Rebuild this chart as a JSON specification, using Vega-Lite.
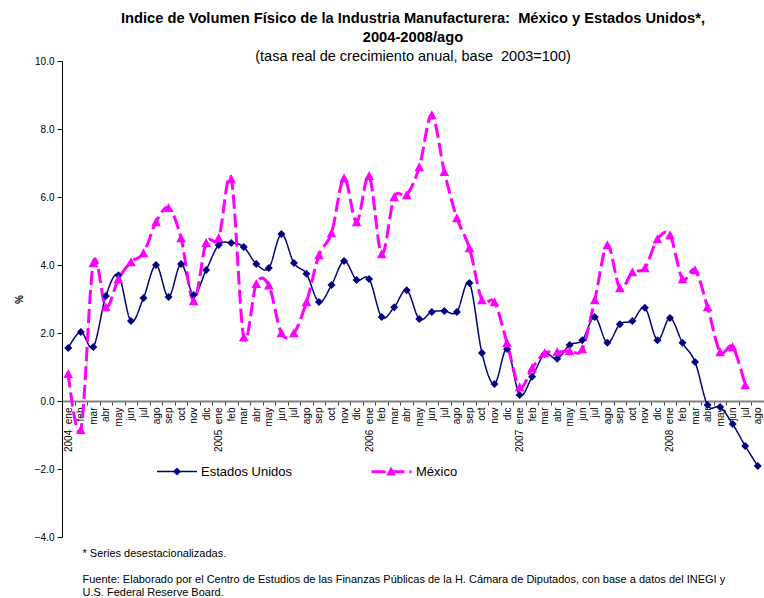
{
  "$schema": "https://vega.github.io/schema/vega-lite/v6.json",
  "autosize": {"type": "none"},
  "padding": {"left": 62, "top": 61, "right": 0, "bottom": 61},
  "width": 702,
  "height": 476,
  "background": "white",
  "title": {
    "text": ["Indice de Volumen Físico de la Industria Manufacturera: \u00a0México y Estados Unidos*,", "2004-2008/ago"],
    "subtitle": "(tasa real de crecimiento anual, base \u00a02003=100)",
    "font": "Liberation Sans",
    "fontSize": 14.7,
    "fontWeight": "bold",
    "lineHeight": 19,
    "color": "black",
    "subtitleFont": "Liberation Sans",
    "subtitleFontSize": 14.5,
    "subtitleColor": "black",
    "subtitlePadding": 5,
    "anchor": "middle",
    "frame": "group",
    "offset": -7
  },
  "data": {"values": [
    {"mes":"2004-01","serie":"Estados Unidos","valor":1.56},{"mes":"2004-02","serie":"Estados Unidos","valor":2.03},{"mes":"2004-03","serie":"Estados Unidos","valor":1.59},{"mes":"2004-04","serie":"Estados Unidos","valor":3.09},{"mes":"2004-05","serie":"Estados Unidos","valor":3.70},{"mes":"2004-06","serie":"Estados Unidos","valor":2.35},{"mes":"2004-07","serie":"Estados Unidos","valor":3.03},{"mes":"2004-08","serie":"Estados Unidos","valor":4.00},{"mes":"2004-09","serie":"Estados Unidos","valor":3.06},{"mes":"2004-10","serie":"Estados Unidos","valor":4.03},{"mes":"2004-11","serie":"Estados Unidos","valor":3.12},{"mes":"2004-12","serie":"Estados Unidos","valor":3.85},
    {"mes":"2005-01","serie":"Estados Unidos","valor":4.59},{"mes":"2005-02","serie":"Estados Unidos","valor":4.65},{"mes":"2005-03","serie":"Estados Unidos","valor":4.53},{"mes":"2005-04","serie":"Estados Unidos","valor":4.03},{"mes":"2005-05","serie":"Estados Unidos","valor":3.91},{"mes":"2005-06","serie":"Estados Unidos","valor":4.91},{"mes":"2005-07","serie":"Estados Unidos","valor":4.06},{"mes":"2005-08","serie":"Estados Unidos","valor":3.74},{"mes":"2005-09","serie":"Estados Unidos","valor":2.91},{"mes":"2005-10","serie":"Estados Unidos","valor":3.41},{"mes":"2005-11","serie":"Estados Unidos","valor":4.12},{"mes":"2005-12","serie":"Estados Unidos","valor":3.56},
    {"mes":"2006-01","serie":"Estados Unidos","valor":3.59},{"mes":"2006-02","serie":"Estados Unidos","valor":2.47},{"mes":"2006-03","serie":"Estados Unidos","valor":2.76},{"mes":"2006-04","serie":"Estados Unidos","valor":3.26},{"mes":"2006-05","serie":"Estados Unidos","valor":2.41},{"mes":"2006-06","serie":"Estados Unidos","valor":2.62},{"mes":"2006-07","serie":"Estados Unidos","valor":2.65},{"mes":"2006-08","serie":"Estados Unidos","valor":2.62},{"mes":"2006-09","serie":"Estados Unidos","valor":3.47},{"mes":"2006-10","serie":"Estados Unidos","valor":1.41},{"mes":"2006-11","serie":"Estados Unidos","valor":0.50},{"mes":"2006-12","serie":"Estados Unidos","valor":1.53},
    {"mes":"2007-01","serie":"Estados Unidos","valor":0.18},{"mes":"2007-02","serie":"Estados Unidos","valor":0.71},{"mes":"2007-03","serie":"Estados Unidos","valor":1.38},{"mes":"2007-04","serie":"Estados Unidos","valor":1.24},{"mes":"2007-05","serie":"Estados Unidos","valor":1.65},{"mes":"2007-06","serie":"Estados Unidos","valor":1.79},{"mes":"2007-07","serie":"Estados Unidos","valor":2.47},{"mes":"2007-08","serie":"Estados Unidos","valor":1.71},{"mes":"2007-09","serie":"Estados Unidos","valor":2.26},{"mes":"2007-10","serie":"Estados Unidos","valor":2.35},{"mes":"2007-11","serie":"Estados Unidos","valor":2.74},{"mes":"2007-12","serie":"Estados Unidos","valor":1.79},
    {"mes":"2008-01","serie":"Estados Unidos","valor":2.44},{"mes":"2008-02","serie":"Estados Unidos","valor":1.71},{"mes":"2008-03","serie":"Estados Unidos","valor":1.15},{"mes":"2008-04","serie":"Estados Unidos","valor":-0.12},{"mes":"2008-05","serie":"Estados Unidos","valor":-0.18},{"mes":"2008-06","serie":"Estados Unidos","valor":-0.68},{"mes":"2008-07","serie":"Estados Unidos","valor":-1.32},{"mes":"2008-08","serie":"Estados Unidos","valor":-1.91},
    {"mes":"2004-01","serie":"México","valor":0.80},{"mes":"2004-02","serie":"México","valor":-0.85},{"mes":"2004-03","serie":"México","valor":4.06},{"mes":"2004-04","serie":"México","valor":2.76},{"mes":"2004-05","serie":"México","valor":3.59},{"mes":"2004-06","serie":"México","valor":4.09},{"mes":"2004-07","serie":"México","valor":4.35},{"mes":"2004-08","serie":"México","valor":5.26},{"mes":"2004-09","serie":"México","valor":5.68},{"mes":"2004-10","serie":"México","valor":4.79},{"mes":"2004-11","serie":"México","valor":2.94},{"mes":"2004-12","serie":"México","valor":4.65},
    {"mes":"2005-01","serie":"México","valor":4.79},{"mes":"2005-02","serie":"México","valor":6.53},{"mes":"2005-03","serie":"México","valor":1.88},{"mes":"2005-04","serie":"México","valor":3.45},{"mes":"2005-05","serie":"México","valor":3.40},{"mes":"2005-06","serie":"México","valor":2.00},{"mes":"2005-07","serie":"México","valor":2.00},{"mes":"2005-08","serie":"México","valor":2.91},{"mes":"2005-09","serie":"México","valor":4.29},{"mes":"2005-10","serie":"México","valor":4.94},{"mes":"2005-11","serie":"México","valor":6.56},{"mes":"2005-12","serie":"México","valor":5.26},
    {"mes":"2006-01","serie":"México","valor":6.62},{"mes":"2006-02","serie":"México","valor":4.32},{"mes":"2006-03","serie":"México","valor":6.00},{"mes":"2006-04","serie":"México","valor":6.06},{"mes":"2006-05","serie":"México","valor":6.88},{"mes":"2006-06","serie":"México","valor":8.41},{"mes":"2006-07","serie":"México","valor":6.74},{"mes":"2006-08","serie":"México","valor":5.38},{"mes":"2006-09","serie":"México","valor":4.50},{"mes":"2006-10","serie":"México","valor":2.97},{"mes":"2006-11","serie":"México","valor":2.91},{"mes":"2006-12","serie":"México","valor":1.71},
    {"mes":"2007-01","serie":"México","valor":0.41},{"mes":"2007-02","serie":"México","valor":0.97},{"mes":"2007-03","serie":"México","valor":1.41},{"mes":"2007-04","serie":"México","valor":1.44},{"mes":"2007-05","serie":"México","valor":1.47},{"mes":"2007-06","serie":"México","valor":1.53},{"mes":"2007-07","serie":"México","valor":2.97},{"mes":"2007-08","serie":"México","valor":4.59},{"mes":"2007-09","serie":"México","valor":3.32},{"mes":"2007-10","serie":"México","valor":3.79},{"mes":"2007-11","serie":"México","valor":3.91},{"mes":"2007-12","serie":"México","valor":4.76},
    {"mes":"2008-01","serie":"México","valor":4.88},{"mes":"2008-02","serie":"México","valor":3.59},{"mes":"2008-03","serie":"México","valor":3.85},{"mes":"2008-04","serie":"México","valor":2.76},{"mes":"2008-05","serie":"México","valor":1.44},{"mes":"2008-06","serie":"México","valor":1.59},{"mes":"2008-07","serie":"México","valor":0.47}
  ]},
  "encoding": {
    "x": {
      "field": "mes",
      "type": "ordinal",
      "sort": null,
      "bandPosition": 0.5,
      "scale": {"type": "band", "paddingInner": 0, "paddingOuter": 0},
      "axis": {
        "orient": "bottom",
        "offset": -136,
        "tickBand": "extent",
        "labelAngle": -90,
        "labelAlign": "right",
        "labelBaseline": "middle",
        "labelFont": "Liberation Sans",
        "labelFontSize": 10,
        "labelColor": "black",
        "labelPadding": 2,
        "labelOverlap": false,
        "labelFlush": false,
        "labelBound": false,
        "labelExpr": "isString(datum.value) && length(datum.value) == 7 ? (substring(datum.value,5,7)=='01' ? substring(datum.value,0,4) + '\u00a0 ' : '') + ['ene','feb','mar','abr','may','jun','jul','ago','sep','oct','nov','dic'][toNumber(substring(datum.value,5,7))-1] : ''",
        "domainColor": "#808080",
        "domainWidth": 2,
        "tickColor": "#404040",
        "tickSize": 4,
        "grid": false,
        "title": ["* Series desestacionalizadas.", "\u200b", "Fuente: Elaborado por el Centro de Estudios de las Finanzas Públicas de la H. Cámara de Diputados, con base a datos del INEGI y", "U.S. Federal Reserve Board."],
        "titleFont": "Liberation Sans",
        "titleFontSize": 11,
        "titleFontWeight": "normal",
        "titleColor": "black",
        "titleLineHeight": 13,
        "titleAlign": "left",
        "titleBaseline": "top",
        "titleAnchor": "start",
        "titleX": 20,
        "titleY": 146
      }
    },
    "y": {
      "field": "valor",
      "type": "quantitative",
      "scale": {"domain": [-4, 10], "nice": false, "zero": false},
      "axis": {
        "values": [-4, -2, 0, 2, 4, 6, 8, 10],
        "format": ".1f",
        "labelFont": "Liberation Sans",
        "labelFontSize": 10,
        "labelColor": "black",
        "labelPadding": 3,
        "domainColor": "black",
        "domainWidth": 1,
        "tickColor": "black",
        "tickSize": 5,
        "grid": false,
        "title": "%",
        "titleFont": "Liberation Sans",
        "titleFontSize": 10,
        "titleFontWeight": "bold",
        "titleColor": "black",
        "titlePadding": 10
      }
    }
  },
  "layer": [
    {
      "mark": {"type": "line", "interpolate": "cardinal"},
      "encoding": {
        "color": {
          "field": "serie", "type": "nominal",
          "scale": {"range": ["#000080", "#FF00FF"]},
          "legend": {"orient": "none", "legendX": 94, "legendY": 389, "direction": "horizontal", "title": null, "symbolType": "stroke", "symbolSize": 1600, "symbolStrokeWidth": 2, "labelOffset": 3, "columnPadding": 72, "padding": 0, "labelFont": "Liberation Sans", "labelFontSize": 13, "labelColor": "black"}
        },
        "strokeDash": {
          "field": "serie", "type": "nominal",
          "scale": {"range": [[1, 0], [14, 5]]},
          "legend": {"orient": "none", "legendX": 94, "legendY": 389, "direction": "horizontal", "title": null, "symbolType": "stroke", "symbolSize": 1600, "symbolStrokeWidth": 2, "labelOffset": 3, "columnPadding": 72, "padding": 0, "labelFont": "Liberation Sans", "labelFontSize": 13, "labelColor": "black"}
        },
        "strokeWidth": {
          "field": "serie", "type": "ordinal",
          "scale": {"range": [1.5, 3]},
          "legend": null
        }
      }
    },
    {
      "mark": {"type": "point", "filled": true, "size": 1600, "opacity": 1},
      "encoding": {
        "shape": {
          "field": "serie", "type": "nominal",
          "scale": {"domain": ["Estados Unidos", "México"], "range": ["M0,-0.2L0.2,0L0,0.2L-0.2,0Z", "M0,-0.24L0.24,0.21L-0.24,0.21Z"]},
          "legend": {"orient": "none", "legendX": 94, "legendY": 389, "direction": "horizontal", "title": null, "symbolSize": 1600, "symbolStrokeWidth": 2, "labelOffset": 3, "columnPadding": 169, "padding": 0, "labelFont": "Liberation Sans", "labelFontSize": 13, "labelExpr": "''"}
        },
        "fill": {
          "field": "serie", "type": "nominal",
          "scale": {"domain": ["Estados Unidos", "México"], "range": ["#000080", "#FF00FF"]},
          "legend": {"orient": "none", "legendX": 94, "legendY": 389, "direction": "horizontal", "title": null, "symbolSize": 1600, "symbolStrokeWidth": 2, "labelOffset": 3, "columnPadding": 169, "padding": 0, "labelFont": "Liberation Sans", "labelFontSize": 13, "labelExpr": "''"}
        }
      }
    }
  ],
  "config": {
    "view": {"stroke": null},
    "font": "Liberation Sans"
  }
}
